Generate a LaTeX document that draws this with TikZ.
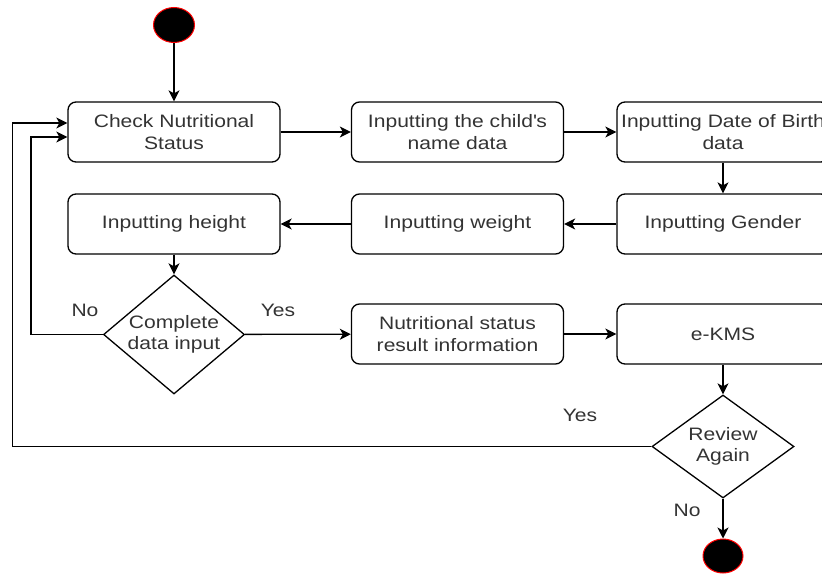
\documentclass[tikz,border=0pt]{standalone}
\usepackage{fontspec}
\setmainfont{Liberation Sans}[FakeStretch=1.17]
\usetikzlibrary{shapes.geometric,arrows.meta,calc}

\tikzset{
  txt/.style={font=\fontsize{18}{21.6}\selectfont, text=black!80},
  act/.style={txt, draw, rounded corners=8pt, line width=1.3pt, align=center,
              minimum width=212pt, minimum height=60pt, inner sep=0pt},
  dec/.style={txt, draw, diamond, line width=1.3pt, align=center, inner sep=-3pt},
  dot/.style={ellipse, draw=red, fill=black, line width=1pt},
  arr/.style={-{Stealth[length=11pt,width=11pt,inset=3pt]}, line width=1.3pt},
}

\begin{document}
\begin{tikzpicture}[x=1pt,y=-1pt]
\def\cA{174} % left column
\def\cB{457.5} % middle column
\def\cC{723} % right column
\useasboundingbox (0,0) rectangle (822,573);
\clip (0,0) rectangle (822,573);

% start and end
\node[dot, minimum width=41pt, minimum height=35pt] (start) at (\cA,25) {};
\node[dot, minimum width=40pt, minimum height=34pt] (stop) at (\cC,556) {};

% first row
\node[act] (chk) at (\cA,132) {Check Nutritional\\Status};
\node[act] (name) at (\cB,132) {Inputting the child\textquotesingle s\\name data};
\node[act] (dob) at (\cC,132) {Inputting Date of Birth\\data};

% second row
\node[act] (gen) at (\cC,224) {Inputting Gender};
\node[act] (wgt) at (\cB,224) {Inputting weight};
\node[act] (hgt) at (\cA,224) {Inputting height};

% third row
\node[dec, minimum width=141pt, minimum height=119pt] (cmp) at (\cA,334.5) {Complete\\data input};
\node[act] (res) at (\cB,334) {Nutritional status\\result information};
\node[act] (ekms) at (\cC,334) {e-KMS};
\node[dec, minimum width=142pt, minimum height=103pt] (rev) at (\cC,446.5) {Review\\Again};

% labels
\node[txt] (no1) at (85,310) {No};
\node[txt] (yes1) at (278,310) {Yes};
\node[txt] (yes2) at (580,415) {Yes};
\node[txt] (no2) at (687,510) {No};

\draw[arr] (start) -- (chk);
\draw[arr] (chk) -- (name);
\draw[arr] (name) -- (dob);
\draw[arr] (dob) -- (gen);
\draw[arr] (gen) -- (wgt);
\draw[arr] (wgt) -- (hgt);
\draw[arr] (hgt) -- (cmp);
\draw[arr] (cmp) -- (res);
\draw[arr] (res) -- (ekms);
\draw[arr] (ekms) -- (rev);
\draw[arr] (rev) -- (stop);
\draw[arr] (cmp.west) -- ++(-72,0) |- ($(chk.west)+(0,5)$);
\draw[arr] (rev.west) -- ++(-639,0) |- ($(chk.west)+(0,-9)$);
\end{tikzpicture}
\end{document}
